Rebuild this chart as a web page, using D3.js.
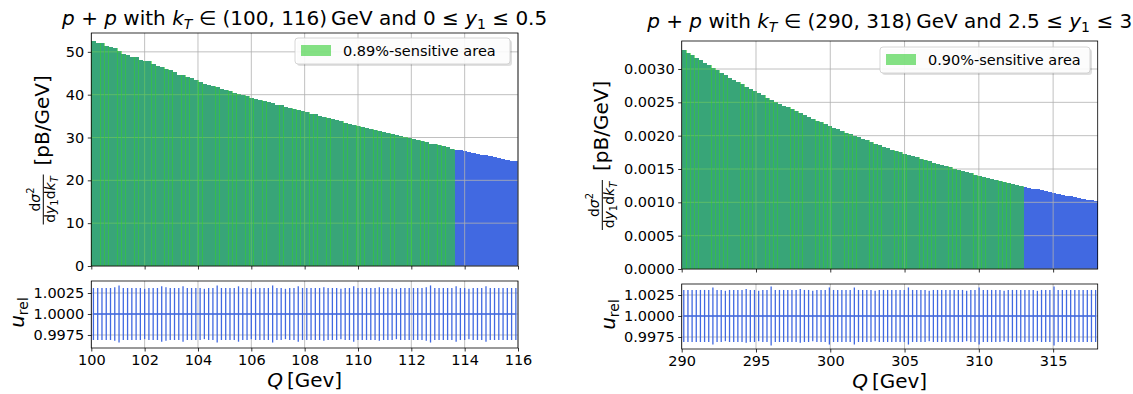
<html>
<head>
<meta charset="utf-8" />
<title>Sensitive area</title>
<script src="https://d3js.org/d3.v7.min.js"></script>
<style>
    body { margin: 0; background: #fff; font-family: "DejaVu Sans", sans-serif; }
    .tick text { font-family: "DejaVu Sans", sans-serif; font-size: 14.5px; fill: #000; }
    .tick line { stroke: #000; stroke-width: 0.8; }
    .grid line { stroke: #b0b0b0; stroke-width: 0.8; }
    .lbl { font-family: "DejaVu Sans", sans-serif; fill: #000; }
</style>
</head>
<body>
<svg id="chart" width="1133" height="394"></svg>
<script>
// ---------- left figure ----------
const leftRange = [100, 116]
const leftXTicks = [100, 102, 104, 106, 108, 110, 112, 114, 116]
const leftYTicks = [0, 10, 20, 30, 40, 50]
const leftYMax = 54.4
const leftSensitive = 85
const leftLegend = "0.89%-sensitive area"
const leftSigma = [
    52.5, 52.1, 52.0, 51.4, 51.2, 50.9, 50.3, 49.6, 49.2, 48.8,
    48.7, 48.0, 47.9, 47.8, 47.1, 46.8, 46.5, 46.0, 45.7, 45.2,
    44.7, 44.5, 44.1, 43.8, 43.4, 42.9, 42.6, 42.3, 42.0, 41.7,
    41.4, 41.1, 40.8, 40.5, 40.2, 39.9, 39.6, 39.3, 39.0, 38.8,
    38.5, 38.3, 38.0, 37.7, 37.5, 37.2, 37.0, 36.7, 36.4, 36.2,
    35.9, 35.6, 35.4, 35.1, 34.8, 34.6, 34.3, 34.0, 33.8, 33.5,
    33.2, 33.0, 32.7, 32.5, 32.2, 32.0, 31.7, 31.5, 31.3, 31.0,
    30.8, 30.5, 30.3, 30.1, 29.8, 29.6, 29.4, 29.1, 28.9, 28.6,
    28.4, 28.2, 28.0, 27.7, 27.4, 27.2, 27.0, 26.8, 26.6, 26.4,
    26.2, 26.0, 25.8, 25.6, 25.4, 25.2, 25.0, 24.8, 24.6, 24.4
]
const leftErr = [
    0.0031, 0.0031, 0.0031, 0.0031, 0.0031, 0.0032, 0.0034, 0.0031, 0.0031, 0.0031,
    0.0031, 0.0031, 0.0030, 0.0031, 0.0031, 0.0031, 0.0033, 0.0032, 0.0031, 0.0031,
    0.0031, 0.0033, 0.0031, 0.0031, 0.0031, 0.0031, 0.0030, 0.0031, 0.0031, 0.0034,
    0.0031, 0.0031, 0.0031, 0.0031, 0.0033, 0.0031, 0.0031, 0.0030, 0.0031, 0.0031,
    0.0031, 0.0031, 0.0034, 0.0031, 0.0031, 0.0030, 0.0031, 0.0031, 0.0033, 0.0031,
    0.0031, 0.0031, 0.0031, 0.0031, 0.0032, 0.0031, 0.0031, 0.0031, 0.0030, 0.0031,
    0.0031, 0.0033, 0.0031, 0.0031, 0.0031, 0.0031, 0.0031, 0.0032, 0.0031, 0.0031,
    0.0031, 0.0030, 0.0031, 0.0031, 0.0031, 0.0031, 0.0031, 0.0031, 0.0032, 0.0034,
    0.0031, 0.0031, 0.0031, 0.0031, 0.0031, 0.0033, 0.0031, 0.0031, 0.0030, 0.0031,
    0.0031, 0.0031, 0.0033, 0.0031, 0.0031, 0.0031, 0.0031, 0.0031, 0.0031, 0.0031
]

// ---------- right figure ----------
const rightRange = [290, 318]
const rightXTicks = [290, 295, 300, 305, 310, 315]
const rightYTicks = [0, 0.0005, 0.0010, 0.0015, 0.0020, 0.0025, 0.0030]
const rightYMax = 0.00342
const rightSensitive = 82
const rightLegend = "0.90%-sensitive area"
const rightSigma = [
    0.003285, 0.003247, 0.003209, 0.003170, 0.003132, 0.003094, 0.003056, 0.003018, 0.002979, 0.002941,
    0.002903, 0.002870, 0.002836, 0.002803, 0.002770, 0.002736, 0.002703, 0.002669, 0.002636, 0.002603,
    0.002569, 0.002540, 0.002511, 0.002481, 0.002452, 0.002423, 0.002393, 0.002364, 0.002335, 0.002306,
    0.002276, 0.002250, 0.002224, 0.002199, 0.002173, 0.002147, 0.002121, 0.002095, 0.002070, 0.002044,
    0.002018, 0.001995, 0.001973, 0.001950, 0.001928, 0.001905, 0.001882, 0.001860, 0.001837, 0.001815,
    0.001792, 0.001772, 0.001752, 0.001732, 0.001712, 0.001692, 0.001673, 0.001653, 0.001633, 0.001613,
    0.001593, 0.001575, 0.001558, 0.001540, 0.001523, 0.001505, 0.001487, 0.001470, 0.001452, 0.001435,
    0.001417, 0.001401, 0.001386, 0.001370, 0.001355, 0.001339, 0.001324, 0.001308, 0.001293, 0.001277,
    0.001262, 0.001248, 0.001235, 0.001221, 0.001207, 0.001193, 0.001180, 0.001166, 0.001152, 0.001139,
    0.001125, 0.001113, 0.001101, 0.001088, 0.001076, 0.001064, 0.001052, 0.001040, 0.001028, 0.001016
]
const rightErr = [
    0.0031, 0.0031, 0.0031, 0.0031, 0.0031, 0.0031, 0.0031, 0.0034, 0.0031, 0.0031,
    0.0030, 0.0031, 0.0031, 0.0031, 0.0031, 0.0032, 0.0031, 0.0031, 0.0030, 0.0031,
    0.0031, 0.0035, 0.0031, 0.0031, 0.0031, 0.0031, 0.0031, 0.0031, 0.0032, 0.0031,
    0.0031, 0.0030, 0.0031, 0.0031, 0.0031, 0.0034, 0.0031, 0.0031, 0.0031, 0.0031,
    0.0031, 0.0034, 0.0031, 0.0031, 0.0031, 0.0031, 0.0030, 0.0031, 0.0031, 0.0031,
    0.0031, 0.0031, 0.0031, 0.0031, 0.0034, 0.0031, 0.0031, 0.0031, 0.0031, 0.0030,
    0.0031, 0.0031, 0.0031, 0.0031, 0.0031, 0.0031, 0.0031, 0.0031, 0.0030, 0.0031,
    0.0031, 0.0034, 0.0031, 0.0031, 0.0031, 0.0031, 0.0031, 0.0030, 0.0031, 0.0031,
    0.0031, 0.0031, 0.0031, 0.0031, 0.0031, 0.0030, 0.0031, 0.0031, 0.0031, 0.0035,
    0.0031, 0.0031, 0.0031, 0.0031, 0.0031, 0.0031, 0.0031, 0.0031, 0.0031, 0.0031
]

const svg = d3.select("svg#chart")
const blue = "#4169e1"

function drawPanel(o) {
    const g = svg.append("g")
    const n = o.sigma.length
    const bw = (o.range[1] - o.range[0]) / n
    const bins = o.sigma.map((v, i) => ({
        i: i, v: v, err: o.err[i],
        lo: o.range[0] + i * bw, hi: o.range[0] + (i + 1) * bw,
        mid: o.range[0] + (i + 0.5) * bw
    }))

    const x = d3.scaleLinear().domain(o.range).range([o.left, o.right])
    const y = d3.scaleLinear().domain([0, o.yMax]).range([o.mainBottom, o.mainTop])
    const yr = d3.scaleLinear().domain(o.relDomain).range([o.relBottom, o.relTop])

    // blue bars (all bins)
    g.append("g").selectAll("rect").data(bins).join("rect")
        .attr("x", d => x(d.lo)).attr("width", d => x(d.hi) - x(d.lo) + 0.3)
        .attr("y", d => y(d.v)).attr("height", d => y(0) - y(d.v))
        .attr("fill", blue).attr("shape-rendering", "crispEdges")

    // grid main
    const grid = g.append("g").attr("class", "grid")
    grid.selectAll("line.v").data(o.xTicks).join("line").attr("class", "v")
        .attr("x1", d => x(d)).attr("x2", d => x(d))
        .attr("y1", o.mainTop).attr("y2", o.mainBottom)
    grid.selectAll("line.h").data(o.yTicks).join("line").attr("class", "h")
        .attr("x1", o.left).attr("x2", o.right)
        .attr("y1", d => y(d)).attr("y2", d => y(d))

    // sensitive area overlay
    g.append("g").selectAll("rect").data(bins.filter(d => d.i < o.sensitive)).join("rect")
        .attr("x", d => x(d.lo)).attr("width", d => x(d.hi) - x(d.lo) + 0.7)
        .attr("y", d => y(d.v)).attr("height", d => y(0) - y(d.v))
        .attr("fill", "limegreen").attr("fill-opacity", 0.6)
        .attr("shape-rendering", "crispEdges")

    // frame main
    g.append("rect").attr("x", o.left).attr("y", o.mainTop)
        .attr("width", o.right - o.left).attr("height", o.mainBottom - o.mainTop)
        .attr("fill", "none").attr("stroke", "#000").attr("stroke-width", 0.8)

    g.append("g").attr("transform", `translate(${o.left},0)`)
        .call(d3.axisLeft(y).tickValues(o.yTicks).tickSize(3.5).tickPadding(3.5).tickFormat(o.yFormat))
        .call(a => a.select(".domain").remove())
    g.append("g").attr("transform", `translate(0,${o.mainBottom})`)
        .call(d3.axisBottom(x).tickValues(o.xTicks).tickSize(3.5).tickFormat(""))
        .call(a => a.select(".domain").remove())

    // lower ratio panel
    const rel = g.append("g")
    const rgrid = rel.append("g").attr("class", "grid")
    rgrid.selectAll("line.v").data(o.xTicks).join("line").attr("class", "v")
        .attr("x1", d => x(d)).attr("x2", d => x(d))
        .attr("y1", o.relTop).attr("y2", o.relBottom)
    rgrid.selectAll("line.h").data(o.relTicks).join("line").attr("class", "h")
        .attr("x1", o.left).attr("x2", o.right)
        .attr("y1", d => yr(d)).attr("y2", d => yr(d))

    rel.append("g").selectAll("line").data(bins).join("line")
        .attr("x1", d => x(d.mid)).attr("x2", d => x(d.mid))
        .attr("y1", d => yr(1 - d.err)).attr("y2", d => yr(1 + d.err))
        .attr("stroke", blue).attr("stroke-width", 1.3)
    rel.append("path").datum(bins)
        .attr("d", d3.line().x(d => x(d.mid)).y(() => yr(1)))
        .attr("fill", "none").attr("stroke", blue).attr("stroke-width", 1.4)

    rel.append("rect").attr("x", o.left).attr("y", o.relTop)
        .attr("width", o.right - o.left).attr("height", o.relBottom - o.relTop)
        .attr("fill", "none").attr("stroke", "#000").attr("stroke-width", 0.8)

    rel.append("g").attr("transform", `translate(${o.left},0)`)
        .call(d3.axisLeft(yr).tickValues(o.relTicks).tickSize(3.5).tickPadding(3.5).tickFormat(d3.format(".4f")))
        .call(a => a.select(".domain").remove())
    rel.append("g").attr("transform", `translate(0,${o.relBottom})`)
        .call(d3.axisBottom(x).tickValues(o.xTicks).tickSize(3.5).tickPadding(3.5).tickFormat(d3.format("d")))
        .call(a => a.select(".domain").remove())

    // legend
    const lg = g.append("g").attr("transform", `translate(${o.legend[0]},${o.legend[1]})`)
    lg.append("rect").attr("x", 2).attr("y", 2).attr("width", o.legend[2]).attr("height", 26)
        .attr("rx", 3).attr("fill", "#000").attr("opacity", 0.12)
    lg.append("rect").attr("width", o.legend[2]).attr("height", 26).attr("rx", 3)
        .attr("fill", "#fff").attr("fill-opacity", 0.9).attr("stroke", "#cccccc").attr("stroke-width", 0.8)
    lg.append("rect").attr("x", 6).attr("y", 7).attr("width", 30).attr("height", 11)
        .attr("fill", "limegreen").attr("fill-opacity", 0.6)
    lg.append("text").attr("class", "lbl").attr("x", 48).attr("y", 18).attr("font-size", 14.5)
        .text(o.legendText)

    // title
    const cx = (o.left + o.right) / 2
    const t = g.append("text").attr("class", "lbl").attr("x", cx).attr("y", o.titleY)
        .attr("text-anchor", "middle").attr("font-size", 20)
    o.title.forEach(p => {
        const s = t.append("tspan").text(p.t)
        if (p.i) s.attr("font-style", "italic")
        if (p.sub) s.attr("font-size", 14).attr("baseline-shift", "-4")
    })

    // y label main: fraction + units
    const yl = g.append("g").attr("class", "lbl")
        .attr("transform", `translate(${o.yLabelX},${(o.mainTop + o.mainBottom) / 2}) rotate(-90)`)
    yl.append("line").attr("x1", -75).attr("x2", -25).attr("y1", 0).attr("y2", 0)
        .attr("stroke", "#000").attr("stroke-width", 1)
    const num = yl.append("text").attr("x", -50).attr("y", -3.5).attr("text-anchor", "middle").attr("font-size", 14)
    num.append("tspan").text("d")
    num.append("tspan").attr("font-style", "italic").text("σ")
    num.append("tspan").attr("font-size", 10).attr("baseline-shift", "6").text("2")
    const den = yl.append("text").attr("x", -50).attr("y", 11.5).attr("text-anchor", "middle").attr("font-size", 14)
    den.append("tspan").text("d")
    den.append("tspan").attr("font-style", "italic").text("y")
    den.append("tspan").attr("font-size", 10).attr("baseline-shift", "-3").text("1")
    den.append("tspan").text("d")
    den.append("tspan").attr("font-style", "italic").text("k")
    den.append("tspan").attr("font-size", 10).attr("font-style", "italic").attr("baseline-shift", "-3").text("T")
    yl.append("text").attr("x", -16).attr("y", 5.5).attr("font-size", 20).text("[pB/GeV]")

    // y label ratio
    const ul = g.append("text").attr("class", "lbl")
        .attr("transform", `translate(${o.uLabelX},${(o.relTop + o.relBottom) / 2 - 2}) rotate(-90)`)
        .attr("text-anchor", "middle").attr("font-size", 20)
    ul.append("tspan").attr("font-style", "italic").text("u")
    ul.append("tspan").attr("font-size", 14).attr("dy", 4).text("rel")

    // x label
    const xl = g.append("text").attr("class", "lbl").attr("x", cx).attr("y", o.xLabelY)
        .attr("text-anchor", "middle").attr("font-size", 20)
    xl.append("tspan").attr("font-style", "italic").text("Q")
    xl.append("tspan").text("\u2009[Gev]")
}

drawPanel({
    range: leftRange, xTicks: leftXTicks, yTicks: leftYTicks, yMax: leftYMax,
    sigma: leftSigma, err: leftErr, sensitive: leftSensitive, legendText: leftLegend,
    yFormat: d3.format("d"),
    relDomain: [0.99595, 1.00393], relTicks: [0.9975, 1.0, 1.0025],
    left: 91.3, right: 518, mainTop: 33, mainBottom: 266, relTop: 281, relBottom: 348,
    legend: [295, 38, 215], titleY: 25, yLabelX: 43.3, uLabelX: 24, xLabelY: 387,
    title: [
        { t: "p", i: true }, { t: " + " }, { t: "p", i: true }, { t: " with " },
        { t: "k", i: true }, { t: "T", i: true, sub: true }, { t: " ∈ (100, 116)\u2009GeV and 0 ≤ " },
        { t: "y", i: true }, { t: "1", sub: true }, { t: " ≤ 0.5" }
    ]
})

drawPanel({
    range: rightRange, xTicks: rightXTicks, yTicks: rightYTicks, yMax: rightYMax,
    sigma: rightSigma, err: rightErr, sensitive: rightSensitive, legendText: rightLegend,
    yFormat: d3.format(".4f"),
    relDomain: [0.99607, 1.00381], relTicks: [0.9975, 1.0, 1.0025],
    left: 681.7, right: 1097.7, mainTop: 41, mainBottom: 269, relTop: 284, relBottom: 349,
    legend: [880, 47, 210], titleY: 28, yLabelX: 602.3, uLabelX: 615, xLabelY: 388,
    title: [
        { t: "p", i: true }, { t: " + " }, { t: "p", i: true }, { t: " with " },
        { t: "k", i: true }, { t: "T", i: true, sub: true }, { t: " ∈ (290, 318)\u2009GeV and 2.5 ≤ " },
        { t: "y", i: true }, { t: "1", sub: true }, { t: " ≤ 3" }
    ]
})
</script>
</body>
</html>
